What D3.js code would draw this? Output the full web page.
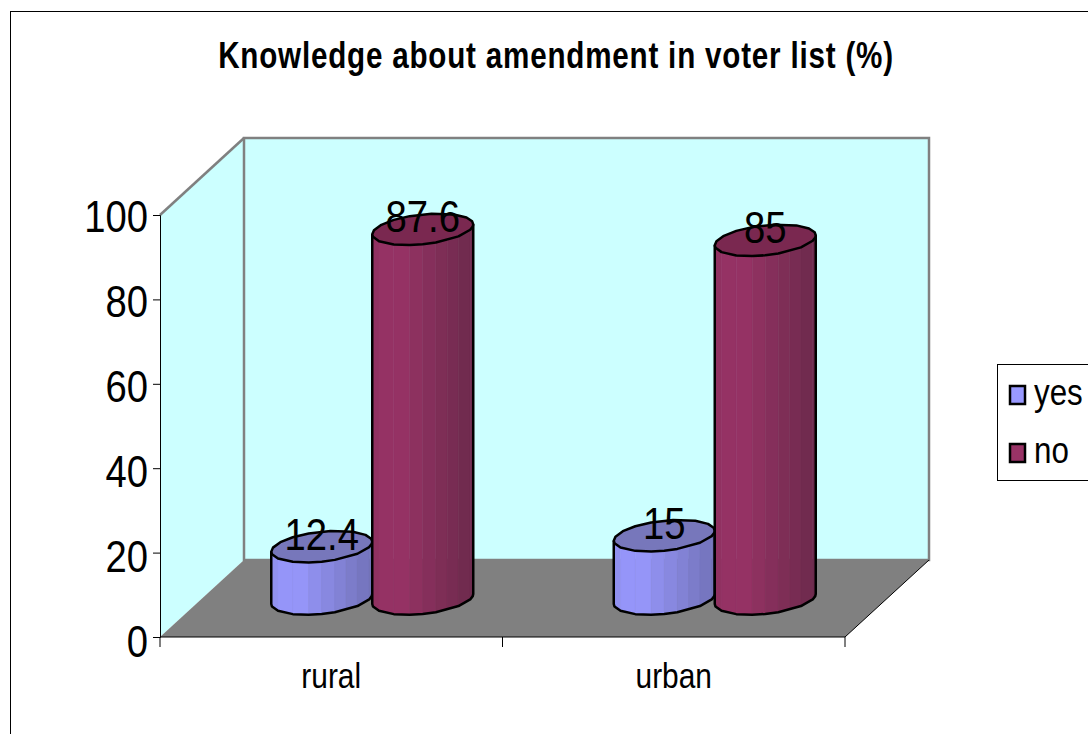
<!DOCTYPE html>
<html>
<head>
<meta charset="utf-8">
<script src="https://cdn.jsdelivr.net/npm/d3@7"></script>
<style>
  html, body { margin: 0; padding: 0; background: #fff; overflow: hidden; }
  text { font-family: "Liberation Sans", Arial, sans-serif; fill: #000; }
</style>
</head>
<body>
<svg id="chart" width="1088" height="734"></svg>
<script>
const categories = ['rural', 'urban'];
const seriesNames = ['yes', 'no'];
const yesValues = [12.4, 15];
const noValues = [87.6, 85];
const yTicks = [0, 20, 40, 60, 80, 100];
const title = 'Knowledge about amendment in voter list (%)';

const svg = d3.select('#chart');
const squeeze = 0.85;   // the original picture is squashed sideways
const depth = { x: 84, y: -77 };
const barDepth = { x: 41, y: -38 };
const colors = { yes: '#9999ff', no: '#993366' };
const tops = { yes: '#7777bb', no: '#7a2850' };
const darks = { yes: '#7272b8', no: '#6c2a4c' };

const x = d3.scaleBand().domain(categories).range([160, 845]);
const x1 = d3.scaleBand().domain(seriesNames).range([0, 202]);
const y = d3.scaleLinear().domain([0, 100]).range([637, 215]);

function squeezedText(sel, px, py, size, k) {
    return sel.attr('transform', `translate(${px},${py}) scale(${k || squeeze},1)`)
        .attr('font-size', size);
}

// outer frame, runs off the right and bottom
svg.append('rect').attr('x', 10.5).attr('y', 11.5).attr('width', 1100).attr('height', 800)
    .attr('fill', '#fff').attr('stroke', '#000');

squeezedText(svg.append('text'), 556, 68, 37, 0.8)
    .attr('text-anchor', 'middle').attr('font-weight', 'bold')
    .attr('letter-spacing', 1).text(title);

// walls and floor
const x0 = x.range()[0], xN = x.range()[1], y0 = y(0), yT = y(100);
const poly = pts => 'M' + pts.join('L') + 'Z';
svg.append('path')
    .attr('d', poly([[x0, yT], [x0 + depth.x, yT + depth.y], [x0 + depth.x, y0 + depth.y], [x0, y0]]))
    .attr('fill', '#ccffff');
svg.append('rect')
    .attr('x', x0 + depth.x).attr('y', yT + depth.y)
    .attr('width', xN - x0).attr('height', y0 - yT)
    .attr('fill', '#ccffff').attr('stroke', '#808080').attr('stroke-width', 2.5);
svg.append('path')
    .attr('d', `M${x0},${yT}L${x0 + depth.x},${yT + depth.y}`)
    .attr('stroke', '#808080').attr('stroke-width', 2.5);
svg.append('path')
    .attr('d', poly([[x0, y0], [xN, y0], [xN + depth.x, y0 + depth.y], [x0 + depth.x, y0 + depth.y]]))
    .attr('fill', '#808080');
svg.append('path')
    .attr('d', `M${x0},${y0}L${xN},${y0}L${xN + depth.x},${y0 + depth.y}`)
    .attr('fill', 'none').attr('stroke', '#000');

// axes
const yAxis = svg.append('g').attr('transform', `translate(${x0},0)`)
    .call(d3.axisLeft(y).tickValues(yTicks).tickSize(7).tickPadding(5));
yAxis.selectAll('text')
    .attr('font-size', 45)
    .attr('transform', d => `translate(0,${5.5 - d * 0.035}) scale(${squeeze},1)`)
    .attr('x', -12 / squeeze);

const xAxis = svg.append('g').attr('transform', `translate(0,${y0})`)
    .call(d3.axisBottom(x).tickSize(0).tickPadding(0));
xAxis.selectAll('.domain').attr('stroke', 'none');
xAxis.selectAll('.tick').select('line').remove();
xAxis.selectAll('text')
    .attr('font-size', 36).attr('dy', 0).attr('x', 0).attr('y', 51)
    .attr('transform', `scale(0.83,1)`);
categories.map(c => x(c)).concat(xN).forEach(px => {
    xAxis.append('line').attr('x1', px).attr('x2', px).attr('y1', 0).attr('y2', 10).attr('stroke', '#000');
});

// faceted cylinders, the rim is a coarse polygon like in the original
const lowerAngles = [180, 170, 150, 125, 105, 90, 75, 45, 20, 8, 0];
const upperAngles = [-12, -30, -52, -80, -105, -125, -145, -165];
function rim(cx, cy, a, r) {
    const t = a * Math.PI / 180;
    return [cx + r * Math.cos(t), cy + 15 * Math.sin(t) - 5 * Math.cos(t)];
}

const bars = [];
seriesNames.forEach((s, si) => {
    const vals = si === 0 ? yesValues : noValues;
    categories.forEach((c, ci) => bars.push({ s, c, v: vals[ci] }));
});

const barG = svg.append('g');
const labels = [];
bars.forEach(d => {
    const r = x1.bandwidth() / 2;
    const groupShift = (x.bandwidth() - x1.range()[1]) / 2 + barDepth.x;
    const cx = x(d.c) + groupShift + x1(d.s) + r;
    const yBase = y(0) + barDepth.y;
    const yTop = y(d.v) + barDepth.y;
    const height = yBase - yTop;
    const g = barG.append('g');
    const shade = d3.scaleLinear().domain([0, 0.22, 1]).range([0.25, 0, 1]);
    const mix = d3.interpolateRgb(colors[d.s], darks[d.s]);

    const lower = lowerAngles.map(a => rim(cx, yBase, a, r));
    // vertical strips, cut along the rim chords
    d3.pairs(lower).forEach(([p, q]) => {
        const n = Math.max(1, Math.round((q[0] - p[0]) / 14));
        d3.range(n).forEach(i => {
            const a = [p[0] + (q[0] - p[0]) * i / n, p[1] + (q[1] - p[1]) * i / n];
            const b = [p[0] + (q[0] - p[0]) * (i + 1) / n, p[1] + (q[1] - p[1]) * (i + 1) / n];
            const u = ((a[0] + b[0]) / 2 - (cx - r)) / (2 * r);
            const c = mix(shade(u));
            g.append('path')
                .attr('d', poly([[a[0], a[1] - height], [b[0], b[1] - height], b, a]))
                .attr('fill', c).attr('stroke', c).attr('stroke-width', 0.6);
        });
    });
    const tl = rim(cx, yTop, 180, r), tr = rim(cx, yTop, 0, r);
    g.append('path')
        .attr('d', 'M' + [tl].concat(lower, [tr]).join('L'))
        .attr('fill', 'none').attr('stroke', '#000').attr('stroke-width', 2.5).attr('stroke-linejoin', 'round');
    const ring = lowerAngles.concat(upperAngles).map(a => rim(cx, yTop, a, r));
    g.append('path').attr('d', poly(ring))
        .attr('fill', tops[d.s]).attr('stroke', '#000').attr('stroke-width', 2.5).attr('stroke-linejoin', 'round');
    labels.push({ v: d.v, x: cx, y: yTop + 3 });
});

labels.forEach(l => {
    squeezedText(svg.append('text'), l.x, l.y, 45)
        .attr('text-anchor', 'middle').text(l.v);
});

// legend
svg.append('rect').attr('x', 997.5).attr('y', 364.5).attr('width', 120).attr('height', 116)
    .attr('fill', '#fff').attr('stroke', '#000');
seriesNames.forEach((s, i) => {
    const ly = 395 + i * 58;
    svg.append('rect').attr('x', 1010).attr('y', ly - 9).attr('width', 15).attr('height', 18)
        .attr('fill', colors[s]).attr('stroke', '#000').attr('stroke-width', 2.5);
    squeezedText(svg.append('text'), 1034, ly + 10, 36, 0.87).text(s);
});
</script>
</body>
</html>
